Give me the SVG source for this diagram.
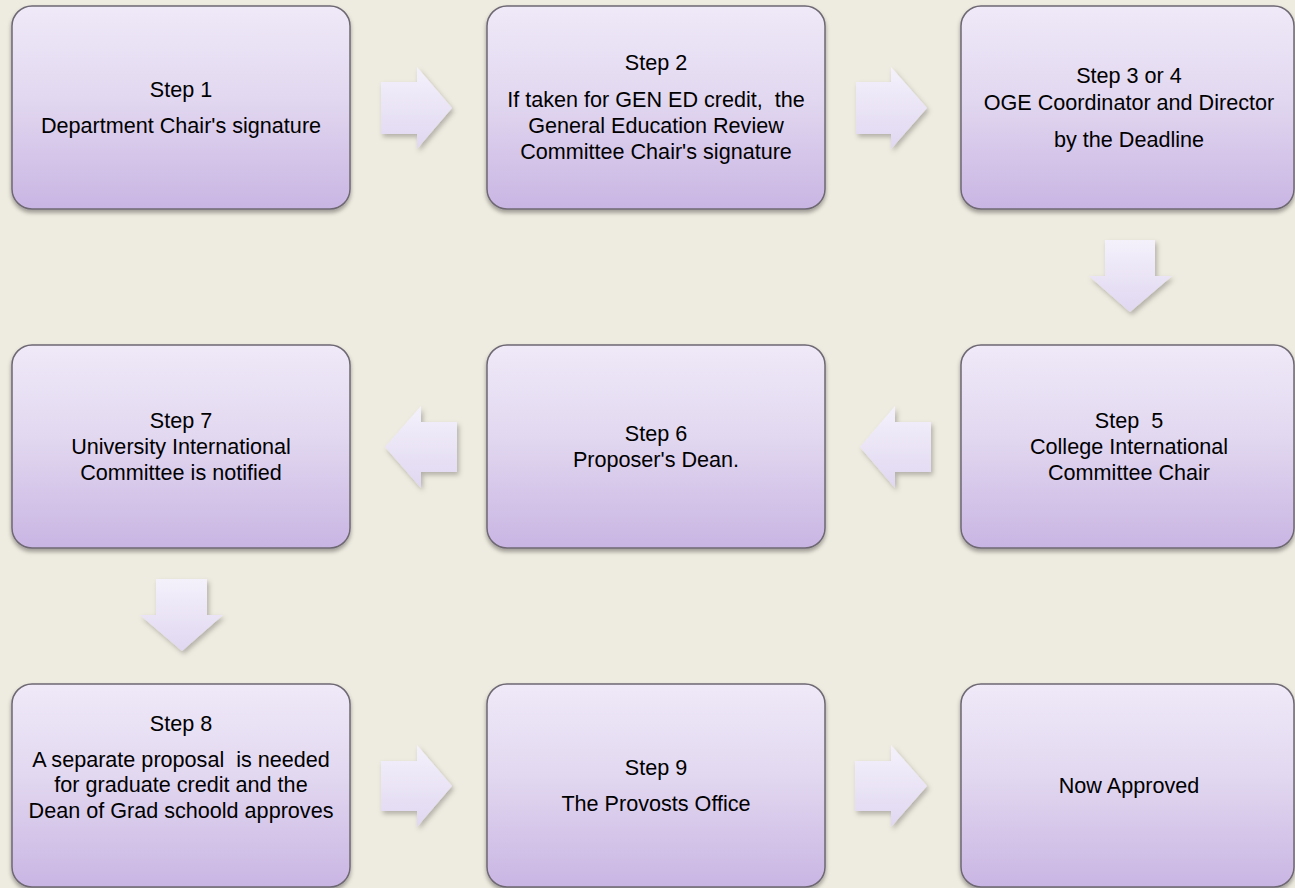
<svg xmlns="http://www.w3.org/2000/svg" width="1295" height="888" viewBox="0 0 1295 888">
<defs>
<linearGradient id="boxg" x1="0" y1="0" x2="0" y2="1">
<stop offset="0" stop-color="#efe9f8"/>
<stop offset="0.45" stop-color="#e2d8f0"/>
<stop offset="1" stop-color="#c9b5e3"/>
</linearGradient>
<linearGradient id="arrg" x1="0" y1="0" x2="0" y2="1">
<stop offset="0" stop-color="#f4f1fb"/>
<stop offset="1" stop-color="#e0d7f1"/>
</linearGradient>
<filter id="bsh" x="-5%" y="-5%" width="110%" height="115%">
<feDropShadow dx="0" dy="3" stdDeviation="2" flood-color="#000" flood-opacity="0.35"/>
</filter>
<filter id="ash" x="-20%" y="-20%" width="150%" height="150%">
<feDropShadow dx="2" dy="3" stdDeviation="2.5" flood-color="#000" flood-opacity="0.25"/>
</filter>
</defs>
<style>
.box{fill:url(#boxg);stroke:#6e6873;stroke-width:1.5;filter:url(#bsh)}
.arr{fill:url(#arrg);filter:url(#ash)}
text{font-family:"Liberation Sans",Arial,sans-serif;font-size:21.6px;fill:#000;text-anchor:middle}
</style>
<rect x="0" y="0" width="1295" height="888" fill="#eeebe0"/>

<g id="connectors">
<polygon class="arr" points="381,82 417,82 417,67 452,108 417,149 417,134 381,134"/>
<polygon class="arr" points="856,82 891,82 891,67 927,108 891,149 891,134 856,134"/>
<polygon class="arr" points="1105,240 1155,240 1155,276 1172,276 1130,312 1089,276 1105,276"/>
<polygon class="arr" points="931,422 895,422 895,406 860,447 895,488 895,472 931,472"/>
<polygon class="arr" points="457,422 421,422 421,406 385,447 421,488 421,472 457,472"/>
<polygon class="arr" points="156,579 207,579 207,615 223,615 182,651 140,615 156,615"/>
<polygon class="arr" points="381,761 417,761 417,745 452,786 417,827 417,811 381,811"/>
<polygon class="arr" points="855,761 891,761 891,745 927,786 891,827 891,811 855,811"/>
</g>

<g id="step1">
<rect class="box" x="12" y="6" width="338" height="203" rx="20"/>
<text x="181" y="97">Step 1</text>
<text x="181" y="133">Department Chair's signature</text>
</g>
<g id="step2">
<rect class="box" x="487" y="6" width="338" height="203" rx="20"/>
<text x="656" y="70">Step 2</text>
<text x="656" y="107" xml:space="preserve">If taken for GEN ED credit,  the</text>
<text x="656" y="133">General Education Review</text>
<text x="656" y="159">Committee Chair's signature</text>
</g>
<g id="step3">
<rect class="box" x="961" y="6" width="333" height="203" rx="20"/>
<text x="1129" y="83">Step 3 or 4</text>
<text x="1129" y="110">OGE Coordinator and Director</text>
<text x="1129" y="147">by the Deadline</text>
</g>
<g id="step5">
<rect class="box" x="961" y="345" width="333" height="203" rx="20"/>
<text x="1129" y="428" xml:space="preserve">Step  5</text>
<text x="1129" y="454">College International</text>
<text x="1129" y="480">Committee Chair</text>
</g>
<g id="step6">
<rect class="box" x="487" y="345" width="338" height="203" rx="20"/>
<text x="656" y="441">Step 6</text>
<text x="656" y="467">Proposer's Dean.</text>
</g>
<g id="step7">
<rect class="box" x="12" y="345" width="338" height="203" rx="20"/>
<text x="181" y="428">Step 7</text>
<text x="181" y="454">University International</text>
<text x="181" y="480">Committee is notified</text>
</g>
<g id="step8">
<rect class="box" x="12" y="684" width="338" height="203" rx="20"/>
<text x="181" y="731">Step 8</text>
<text x="181" y="767" xml:space="preserve">A separate proposal  is needed</text>
<text x="181" y="792">for graduate credit and the</text>
<text x="181" y="818">Dean of Grad schoold approves</text>
</g>
<g id="step9">
<rect class="box" x="487" y="684" width="338" height="203" rx="20"/>
<text x="656" y="775">Step 9</text>
<text x="656" y="811">The Provosts Office</text>
</g>
<g id="approved">
<rect class="box" x="961" y="684" width="333" height="203" rx="20"/>
<text x="1129" y="793">Now Approved</text>
</g>
</svg>
